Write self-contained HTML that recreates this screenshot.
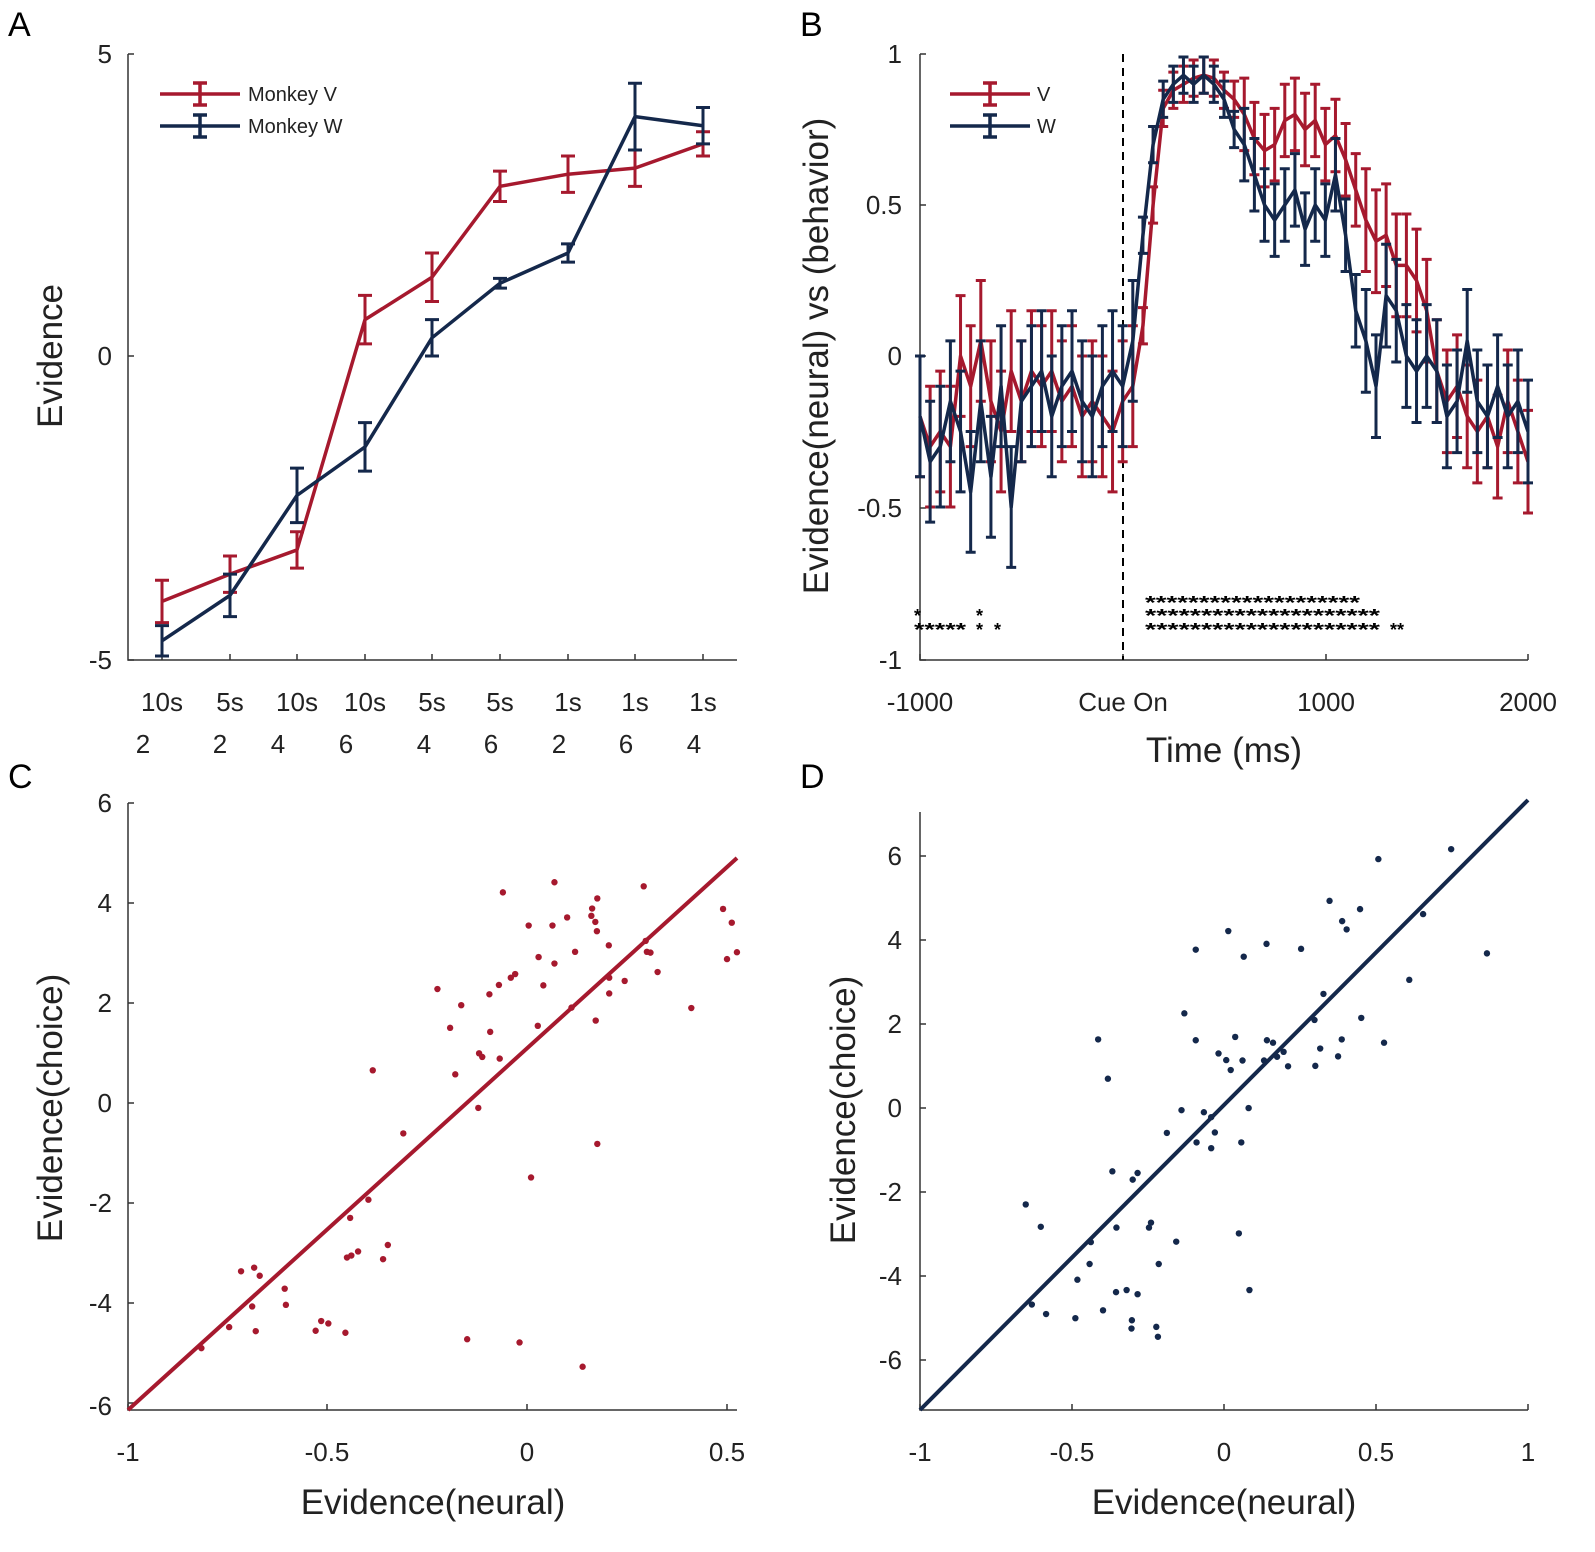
<!DOCTYPE html>
<html><head><meta charset="utf-8"><style>
html,body{margin:0;padding:0;background:#fff;}
svg{display:block;font-family:"Liberation Sans",Arial,sans-serif;}
</style></head><body>
<svg id="s" width="1595" height="1552" viewBox="0 0 1595 1552" xmlns="http://www.w3.org/2000/svg">
<g font-size="34" fill="#000">
<text x="8" y="36">A</text><text x="800" y="36">B</text>
<text x="8" y="788">C</text><text x="800" y="788">D</text>
</g>
<g stroke="#333" stroke-width="1.5" fill="none">
<path d="M128 54V660H737"/>
<path d="M920 54V660H1528"/>
<path d="M128 803V1410H737"/>
<path d="M920 812V1410H1528"/>
</g>
<g font-size="26" fill="#222" text-anchor="end">
<text x="112" y="63">5</text><text x="112" y="365">0</text><text x="112" y="669">-5</text>
<text x="902" y="63">1</text><text x="902" y="214">0.5</text><text x="902" y="365">0</text><text x="902" y="517">-0.5</text><text x="902" y="669">-1</text>
<text x="112" y="812">6</text><text x="112" y="912">4</text><text x="112" y="1012">2</text><text x="112" y="1112">0</text><text x="112" y="1212">-2</text><text x="112" y="1312">-4</text><text x="112" y="1415">-6</text>
<text x="902" y="865">6</text><text x="902" y="949">4</text><text x="902" y="1033">2</text><text x="902" y="1117">0</text><text x="902" y="1201">-2</text><text x="902" y="1285">-4</text><text x="902" y="1369">-6</text>
</g>
<g font-size="26" fill="#222" text-anchor="middle">
<text x="162" y="711">10s</text><text x="230" y="711">5s</text><text x="297" y="711">10s</text><text x="365" y="711">10s</text><text x="432" y="711">5s</text><text x="500" y="711">5s</text><text x="568" y="711">1s</text><text x="635" y="711">1s</text><text x="703" y="711">1s</text>
<text x="143" y="753">2</text><text x="220" y="753">2</text><text x="278" y="753">4</text><text x="346" y="753">6</text><text x="424" y="753">4</text><text x="491" y="753">6</text><text x="559" y="753">2</text><text x="626" y="753">6</text><text x="694" y="753">4</text>
<text x="920" y="711">-1000</text><text x="1123" y="711">Cue On</text><text x="1326" y="711">1000</text><text x="1528" y="711">2000</text>
<text x="128" y="1461">-1</text><text x="327" y="1461">-0.5</text><text x="527" y="1461">0</text><text x="727" y="1461">0.5</text>
<text x="920" y="1461">-1</text><text x="1072" y="1461">-0.5</text><text x="1224" y="1461">0</text><text x="1376" y="1461">0.5</text><text x="1528" y="1461">1</text>
</g>
<g font-size="35" fill="#222" text-anchor="middle">
<text transform="translate(62,356) rotate(-90)">Evidence</text>
<text transform="translate(828,356) rotate(-90)">Evidence(neural) vs (behavior)</text>
<text transform="translate(62,1108) rotate(-90)">Evidence(choice)</text>
<text transform="translate(855,1110) rotate(-90)">Evidence(choice)</text>
<text x="1224" y="762">Time (ms)</text>
<text x="433" y="1514">Evidence(neural)</text>
<text x="1224" y="1514">Evidence(neural)</text>
</g>
<g id="ticks" stroke="#333" stroke-width="1.5"></g>
<line x1="1123" y1="54" x2="1123" y2="660" stroke="#000" stroke-width="2" stroke-dasharray="8,6"/>
<g id="plot"></g>
<g font-size="20" fill="#222">
<text x="248" y="101">Monkey V</text><text x="248" y="133">Monkey W</text>
<text x="1037" y="101">V</text><text x="1037" y="133">W</text>
</g>
<g font-size="18" fill="#000" font-weight="bold">
<text x="1145" y="609" textLength="215" lengthAdjust="spacingAndGlyphs">********************</text>
<text x="1145" y="622" textLength="235" lengthAdjust="spacingAndGlyphs">*********************</text>
<text x="1145" y="636" textLength="235" lengthAdjust="spacingAndGlyphs">*********************</text>
<text x="1390" y="636">**</text>
<text x="914" y="622">*</text><text x="976" y="622">*</text>
<text x="914" y="636" textLength="52" lengthAdjust="spacingAndGlyphs">*****</text>
<text x="976" y="636">*</text><text x="994" y="636">*</text>
</g>
</svg>
<script>
var NS="http://www.w3.org/2000/svg",P=document.getElementById("plot"),T=document.getElementById("ticks");
function el(n,a,p){var e=document.createElementNS(NS,n);for(var k in a)e.setAttribute(k,a[k]);(p||P).appendChild(e);return e;}
var R="#a6192e",B="#14284b";
[54,356,660].forEach(y=>el("line",{x1:128,x2:134,y1:y,y2:y},T));
[162,230,297,365,432,500,568,635,703].forEach(x=>el("line",{x1:x,x2:x,y1:660,y2:654},T));
[54,205,356,508,660].forEach(y=>el("line",{x1:920,x2:926,y1:y,y2:y},T));
[920,1123,1326,1528].forEach(x=>el("line",{x1:x,x2:x,y1:660,y2:654},T));
[803,903,1003,1103,1203,1303,1403].forEach(y=>el("line",{x1:128,x2:134,y1:y,y2:y},T));
[128,327,527,727].forEach(x=>el("line",{x1:x,x2:x,y1:1410,y2:1404},T));
[856,940,1024,1108,1192,1276,1360].forEach(y=>el("line",{x1:920,x2:926,y1:y,y2:y},T));
[920,1072,1224,1376,1528].forEach(x=>el("line",{x1:x,x2:x,y1:1410,y2:1404},T));
function series(xs,ys,es,col,cap,w){
  var d="";xs.forEach((x,i)=>{d+=(i?"L":"M")+x+" "+ys[i];});
  xs.forEach((x,i)=>{var a=ys[i]-es[i],b=ys[i]+es[i];
    el("path",{d:"M"+x+" "+a+"V"+b+"M"+(x-cap)+" "+a+"H"+(x+cap)+"M"+(x-cap)+" "+b+"H"+(x+cap),stroke:col,"stroke-width":w,fill:"none"});});
  el("path",{d:d,stroke:col,"stroke-width":w+0.5,fill:"none","stroke-linejoin":"round"});
}
var ax=[162,230,297,365,432,500,568,635,703];
function ya(v){return 356-v*60.6;}
series(ax,[-4.05,-3.6,-3.2,0.6,1.3,2.8,3.0,3.1,3.5].map(ya),[0.35,0.3,0.3,0.4,0.4,0.25,0.3,0.3,0.2].map(v=>v*60.6),R,7,3);
series(ax,[-4.7,-3.95,-2.3,-1.5,0.3,1.2,1.7,3.95,3.8].map(ya),[0.25,0.35,0.45,0.4,0.3,0.08,0.15,0.55,0.3].map(v=>v*60.6),B,7,3);
el("path",{d:"M160 94H240M200 83V105M193 83H207M193 105H207",stroke:R,"stroke-width":3.5,fill:"none"});
el("path",{d:"M160 126H240M200 115V137M193 115H207M193 137H207",stroke:B,"stroke-width":3.5,fill:"none"});
el("path",{d:"M950 94H1030M990 83V105M983 83H997M983 105H997",stroke:R,"stroke-width":3.5,fill:"none"});
el("path",{d:"M950 126H1030M990 115V137M983 115H997M983 137H997",stroke:B,"stroke-width":3.5,fill:"none"});
var rv=[-0.2,-0.3,-0.25,-0.3,0.0,-0.1,0.05,-0.15,-0.25,-0.05,-0.15,-0.05,-0.1,-0.05,-0.15,-0.1,-0.2,-0.15,-0.2,-0.25,-0.15,
-0.1,0.1,0.5,0.82,0.88,0.9,0.92,0.93,0.92,0.88,0.85,0.8,0.72,0.68,0.7,0.78,0.8,0.75,0.78,0.7,0.73,0.65,0.55,0.45,0.38,0.4,0.3,0.3,0.25,0.15,-0.05,-0.15,-0.1,-0.2,-0.25,-0.2,-0.3,-0.15,-0.25,-0.35];
var bv=[-0.2,-0.35,-0.3,-0.15,-0.25,-0.45,-0.15,-0.4,-0.1,-0.5,-0.15,-0.1,-0.05,-0.2,-0.1,-0.05,-0.15,-0.2,-0.1,-0.05,-0.1,
0.05,0.4,0.7,0.85,0.9,0.93,0.9,0.93,0.9,0.85,0.75,0.7,0.6,0.5,0.45,0.5,0.55,0.42,0.5,0.45,0.6,0.4,0.15,0.05,-0.1,0.2,0.15,0.0,-0.05,0.0,-0.05,-0.2,-0.15,0.05,-0.15,-0.2,-0.1,-0.2,-0.15,-0.25];
function ebv(i,n){var t=i/(n-1)*3000-1000;if(t<=50)return 0.2;if(t<600)return 0.06;if(t<1200)return 0.12;return 0.17;}
function bx(i,n){return 920+i/(n-1)*608;}
function yb(v){return 356-v*302;}
series(rv.map((v,i)=>bx(i,rv.length)),rv.map(yb),rv.map((v,i)=>ebv(i,rv.length)*302),R,5,3);
series(bv.map((v,i)=>bx(i,bv.length)),bv.map(yb),bv.map((v,i)=>ebv(i,bv.length)*302),B,5,3);
el("line",{x1:128,y1:1410,x2:737,y2:858,stroke:R,"stroke-width":4});
var cp=[975,285,1105,260,1330,270,1213,300,1200,325,1198,343,1208,358,1212,381,1530,326,1552,360,1040,367,1100,367,1137,347,1242,416,1157,432,1335,405,1338,432,1347,434,1565,433,1540,450,1065,445,1105,461,1365,482,995,496,1006,487,965,514,1077,515,1243,496,1282,504,810,524,941,537,1243,535,870,564,1148,570,1450,571,842,620,1063,615,1209,602,943,630,915,683,923,692,967,696,647,725,855,735,913,818,724,881,1213,907,1046,990,636,1045,590,1090,685,1157,582,1188,593,1183,610,1173,673,1192,315,1222,348,1213,362,1233,425,1265,343,1309,428,1305,285,1360,352,1370,503,1369,517,1345,535,1351,578,1374,885,1390,1017,1398,1176,1458,215,1412];
for(var i=0;i<cp.length;i+=2)el("circle",{cx:128+(cp[i]-30)*0.3967,cy:1410+(cp[i+1]-1565)*0.4044,r:3.2,fill:R});
el("line",{x1:920,y1:1410,x2:1528,y2:800,stroke:B,"stroke-width":4});
var dp=[1197,233,1376,209,1077,334,1152,354,1108,383,1119,403,1307,366,828,407,922,438,748,452,866,469,1007,450,1464,461,1273,525,1062,559,720,606,1040,622,1155,617,508,669,748,671,845,663,923,671,938,677,1107,669,1211,677,804,703,823,719,863,720,916,720,948,711,964,699,1054,691,1098,710,834,743,975,734,1042,733,532,764,713,840,768,845,786,857,878,835,677,895,795,894,750,918,786,932,860,918,543,988,605,992,593,1008,330,1068,367,1122,553,1124,633,1124,638,1112,854,1138,700,1158,490,1159,487,1212,657,1212,457,1250,552,1280,578,1275,605,1285,880,1275,345,1310,380,1333,452,1343,520,1324,591,1348,590,1368,651,1364,655,1388];
for(var i=0;i<dp.length;i+=2)el("circle",{cx:920+(dp[i]-70)*0.4067,cy:1410+(dp[i+1]-1565)*0.4136,r:3.2,fill:B});
</script>
</body></html>
